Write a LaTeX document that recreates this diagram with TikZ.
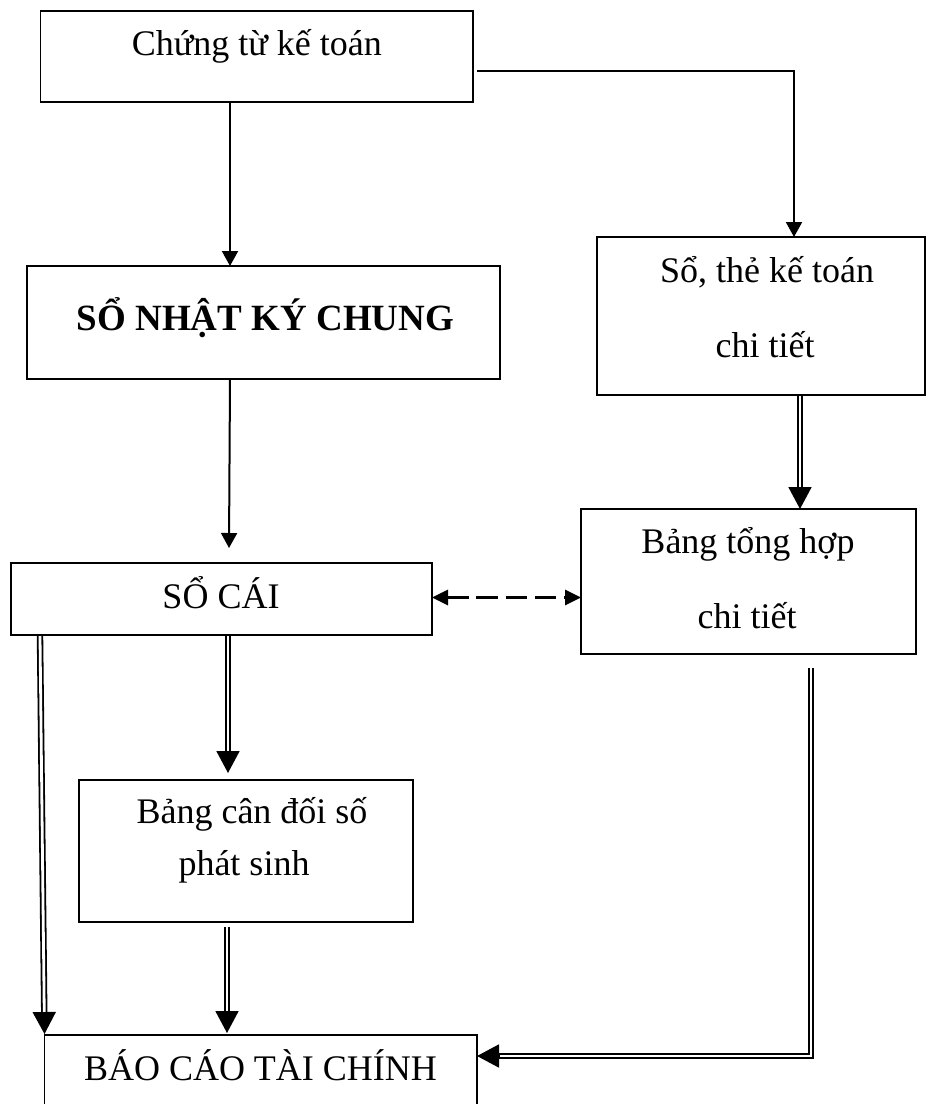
\documentclass[tikz,border=0pt]{standalone}
\usepackage{fontspec}
\setmainfont{Liberation Serif}
\usetikzlibrary{arrows.meta,calc}
\tikzset{
  box/.style={draw, line width=1.7pt, inner sep=0pt, outer sep=0pt},
  txt/.style={font=\fontsize{36}{40}\selectfont, inner sep=0pt, outer sep=0pt, anchor=base},
  arr/.style={line width=2pt, -{Triangle[length=15pt,width=16pt]}},
  dbl/.style={double, double distance=2.8pt, line width=1.8pt, shorten >=18pt},
  dtip/.style={line width=1.8pt, -{Triangle[length=22pt,width=23pt]}},
  dashlink/.style={line width=3pt, dash pattern=on 21.5pt off 7.7pt,
    {Triangle[length=16pt,width=15pt]}-{Triangle[length=16pt,width=15pt]}},
}
% double-line connector with a solid head at its end
\newcommand\drawdbl[2]{\draw[dbl] (#1) -- (#2); \draw[dtip] ($(#2)!22pt!(#1)$) -- (#2);}
\begin{document}
\begin{tikzpicture}[x=1pt, y=-1pt]
  \path[use as bounding box] (0,0) rectangle (931,1104);
  \clip (0,0) rectangle (931,1104);

  % boxes
  \node[box, minimum width=432.5pt, minimum height=91pt]  (b1) at (256.75,56.5) {};
  \node[box, minimum width=473pt,   minimum height=113pt] (b2) at (263.5,322.5) {};
  \node[box, minimum width=328pt,   minimum height=158pt] (b3) at (761,316) {};
  \node[box, minimum width=335pt,   minimum height=145pt] (b4) at (748.5,581.5) {};
  \node[box, minimum width=421pt,   minimum height=72pt]  (b5) at (221.5,599) {};
  \node[box, minimum width=334pt,   minimum height=142pt] (b6) at (246,851) {};
  \node[box, minimum width=432.5pt, minimum height=80pt]  (b7) at (260.75,1075) {};

  % texts
  \node[txt] (t1)  at (256.75,55) {Chứng từ kế toán};
  \node[txt, font=\fontsize{37}{40}\selectfont\bfseries] (t2) at (265.5,330) {SỔ NHẬT KÝ CHUNG};
  \node[txt] (t3a) at (767,282) {Sổ, thẻ kế toán};
  \node[txt] (t3b) at (765,357) {chi tiết};
  \node[txt] (t4a) at (748,553) {Bảng tổng hợp};
  \node[txt] (t4b) at (747,628) {chi tiết};
  \node[txt] (t5)  at (221,608) {SỔ CÁI};
  \node[txt] (t6a) at (252,823) {Bảng cân đối số};
  \node[txt] (t6b) at (244,875) {phát sinh};
  \node[txt] (t7)  at (260.5,1080) {BÁO CÁO TÀI CHÍNH};

  % connector end points
  \coordinate (s34) at ($(b3.south -| 800,0)+(0,1)$);
  \coordinate (e34) at (b4.north -| 800,0);
  \coordinate (s56) at ($(b5.south -| 228,0)+(0,1)$);
  \coordinate (e56) at ($(b6.north -| 228,0)+(0,-7)$);
  \coordinate (s57) at ($(b5.south -| 40,0)+(0,1)$);
  \coordinate (e57) at ($(b7.north west)+(0,-1)$);
  \coordinate (s67) at ($(b6.south -| 227,0)+(0,5)$);
  \coordinate (e67) at ($(b7.north -| 227,0)+(0,-2)$);
  \coordinate (s47) at ($(b4.south -| 811,0)+(0,14)$);
  \coordinate (e47) at (b7.east |- 0,1056);

  % single arrows
  \draw[arr] (b1.south -| 230,0) -- (b2.north -| 230,0);
  \draw[arr] ($(b1.east)+(4,14.5)$) -| ($(b3.north)+(33,0)$);
  \draw[arr] (b2.south -| 230,0) -- ($(b5.north -| 229,0)+(0,-15)$);

  % dashed two-way link
  \draw[dashlink] (b5.east |- 0,597.5) -- (b4.west |- 0,597.5);

  % double arrows
  \drawdbl{s34}{e34}
  \drawdbl{s56}{e56}
  \drawdbl{s57}{e57}
  \drawdbl{s67}{e67}
  \draw[dbl] (s47) |- (e47);
  \draw[dtip] ($(e47)+(22,0)$) -- (e47);
\end{tikzpicture}
\end{document}
